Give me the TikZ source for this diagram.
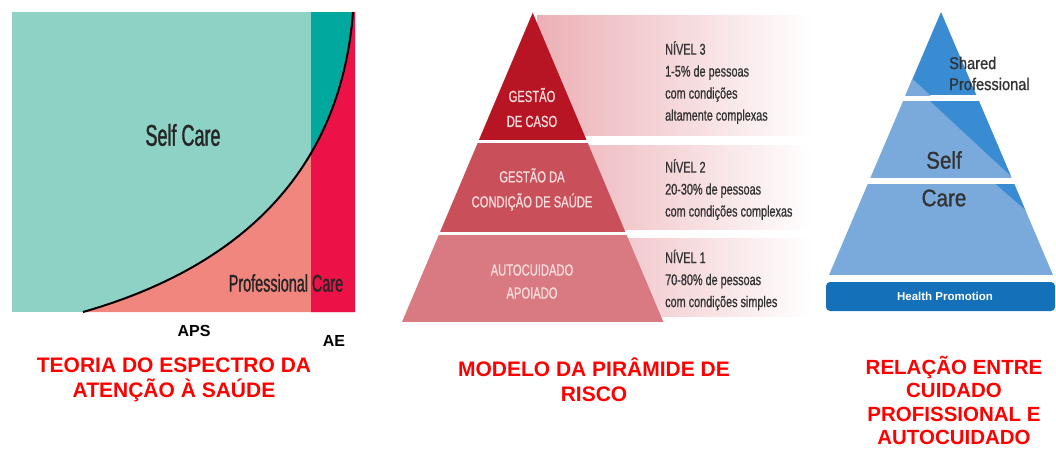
\documentclass[tikz,border=0pt]{standalone}
\usepackage{fontspec}
\setmainfont{Liberation Sans}
\newfontfamily\narrowA[FakeStretch=0.6,FakeBold=1.2]{Liberation Sans}
\newfontfamily\narrowB[FakeStretch=0.7,FakeBold=0.8]{Liberation Sans}
\newfontfamily\narrowC[FakeStretch=0.86,FakeBold=1]{Liberation Sans}
\usetikzlibrary{%
  positioning
 ,calc
}
\definecolor{tealL}{HTML}{8ED2C6}
\definecolor{tealD}{HTML}{00A89D}
\definecolor{pinkC}{HTML}{F0867D}
\definecolor{redC}{HTML}{EC1248}
\definecolor{tierA}{HTML}{B71524}
\definecolor{tierB}{HTML}{C9505B}
\definecolor{tierC}{HTML}{D97A82}
\definecolor{tierT}{HTML}{F7DCDC}
\definecolor{bandP}{HTML}{ECB0B6}
\definecolor{blueL}{HTML}{7AAADC}
\definecolor{blueD}{HTML}{3A8CD2}
\definecolor{blueH}{HTML}{1570BA}
\definecolor{txtG}{HTML}{333333}
\definecolor{capR}{HTML}{FF0000}
\tikzstyle{lbl}=[inner sep=0pt,text=txtG]
\tikzstyle{captxt}=[inner sep=0pt,align=center,text=capR]
\tikzstyle{lvl}=[inner sep=0pt,align=left,anchor=west,text=txtG,
  font=\narrowB\fontsize{15.5}{22}\selectfont]
\tikzstyle{tier}=[inner sep=0pt,align=center,text=tierT,
  font=\narrowB\fontsize{16}{25}\selectfont]

\begin{document}
\begin{tikzpicture}[x=1pt,y=-1pt]
  \useasboundingbox (0,0) rectangle (1056,450);
  %%%%%%%
  % the spectrum
  \fill[tealL] (12,12) rectangle (355,312);
  \fill[tealD] (311,12) rectangle (355,312);
  \fill[pinkC] (83,312) .. controls (230,270) and (340,180) .. (353,12)
    -- (355,12) -- (355,312) -- cycle;
  \begin{scope}
    \clip (311,12) rectangle (355,312);
    \fill[redC] (83,312) .. controls (230,270) and (340,180) .. (353,12)
      -- (355,12) -- (355,312) -- cycle;
  \end{scope}
  \draw[line width=2pt] (83,312) .. controls (230,270) and (340,180) .. (353,12);
  \node[lbl,text=black!85,font=\narrowA\fontsize{30}{30}\selectfont](self)at(183,135){Self Care};
  \node[lbl,text=black!85,font=\narrowA\fontsize{24}{24}\selectfont](prof)at(286,283){Professional Care};
  \node[lbl,text=black,font=\bfseries\fontsize{16}{16}\selectfont](aps)at(194,331){APS};
  \node[lbl,text=black,font=\bfseries\fontsize{16}{16}\selectfont](ae)at(334,341){AE};
  %%%%%%%
  % the risk pyramid
  \foreach \ya/\yb in {15/135,145/229,238/316}
    \shade[left color=bandP,right color=white] (537,\ya) rectangle (812,\yb);
  \begin{scope}
    \clip (532.7,12.7) -- (402,322) -- (663.4,322) -- cycle;
    \fill[tierA] (400,10) rectangle (670,140);
    \fill[tierB] (400,143) rectangle (670,232);
    \fill[tierC] (400,235) rectangle (670,322);
  \end{scope}
  \node[tier](t3)at(532,107.5){GESTÃO\\DE CASO};
  \node[tier](t2)at(532,189.5){GESTÃO DA\\CONDIÇÃO DE SAÚDE};
  \node[tier,font=\narrowB\fontsize{16}{23}\selectfont](t1)at(532,281.5){AUTOCUIDADO\\APOIADO};
  \node[lvl](n3)at(665,82.5){NÍVEL 3\\1-5\% de pessoas\\com condições\\altamente complexas};
  \node[lvl](n2)at(665,189.5){NÍVEL 2\\20-30\% de pessoas\\com condições complexas};
  \node[lvl](n1)at(665,280){NÍVEL 1\\70-80\% de pessoas\\com condições simples};
  %%%%%%%
  % the care pyramid
  \begin{scope}
    \clip (941,12) -- (829,275) -- (1053,275) -- cycle;
    \begin{scope}
      \clip (820,10) rectangle (1060,95);
      \fill[blueD] (820,10) rectangle (1060,95);
      \fill[blueL] (931,96) -- (870,40) -- (860,96) -- cycle;
    \end{scope}
    \begin{scope}
      \clip (820,101) rectangle (1060,178);
      \fill[blueL] (820,101) rectangle (1060,178);
      \fill[blueD] (922.5,94) -- (1020.5,185) -- (1060,185) -- (1060,94) -- cycle;
    \end{scope}
    \begin{scope}
      \clip (820,184) rectangle (1060,275);
      \fill[blueL] (820,184) rectangle (1060,275);
      \fill[blueD] (990,179) -- (1046,228) -- (1060,228) -- (1060,179) -- cycle;
    \end{scope}
  \end{scope}
  \node[lbl,align=left,anchor=west,font=\narrowC\fontsize{17}{21}\selectfont](shp)at(949,73.5){Shared\\Professional};
  \node[lbl,font=\narrowC\fontsize{24}{24}\selectfont](sc1)at(944,160){Self};
  \node[lbl,font=\narrowC\fontsize{24}{24}\selectfont](sc2)at(944,198){Care};
  \fill[blueH,rounded corners=4pt] (826,282) rectangle (1055,311);
  \node[lbl,text=white,font=\bfseries\fontsize{11.5}{12}\selectfont](hp)at(945,296){Health Promotion};
  %%%%%%%
  % the captions
  \node[captxt,font=\bfseries\fontsize{21}{25}\selectfont](c1)at(174,380){TEORIA DO ESPECTRO DA\\ATENÇÃO À SAÚDE};
  \node[captxt,font=\bfseries\fontsize{21}{25}\selectfont](c2)at(594,380){MODELO DA PIRÂMIDE DE\\RISCO};
  \node[captxt,font=\bfseries\fontsize{20.5}{23.6}\selectfont](c3)at(954,400.5){RELAÇÃO ENTRE\\CUIDADO\\PROFISSIONAL E\\AUTOCUIDADO};
\end{tikzpicture}
\end{document}
